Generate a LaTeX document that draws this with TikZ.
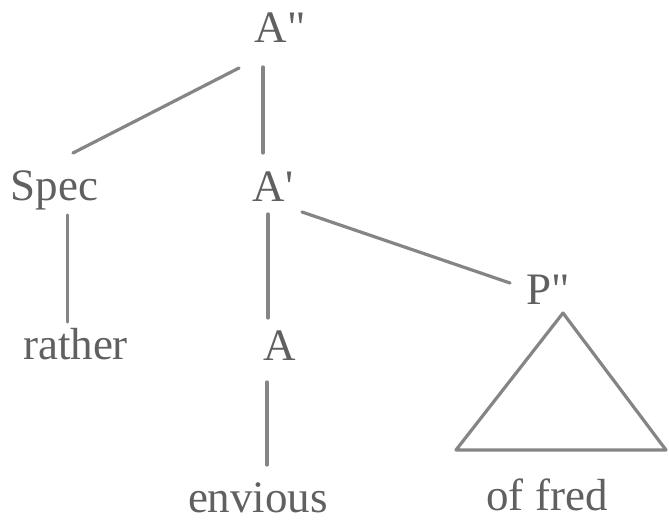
\documentclass[tikz,border=0pt]{standalone}
\usepackage{fontspec}
\setmainfont{Liberation Serif}[Ligatures=TeXOff]
\usetikzlibrary{calc}
\definecolor{inkgray}{HTML}{606060}
\definecolor{linegray}{HTML}{858585}
\tikzset{
  lbl/.style={anchor=base, inner sep=0pt, text=inkgray, font=\fontsize{45}{54}\selectfont},
  edge/.style={draw=linegray, line width=3.2pt, line cap=round},
  tri/.style={draw=linegray, line width=3.2pt, line join=round}
}
\begin{document}
\begin{tikzpicture}[x=1pt,y=-1pt]
\useasboundingbox (0,0) rectangle (669,521);
\node[lbl] (App) at (280,43) {A"};
\node[lbl] (Spec) at (54.5,201) {Spec};
\node[lbl] (Ap) at (273,202) {A'};
\node[lbl] (rather) at (75.5,359) {rather};
\node[lbl] (A) at (280,360) {A};
\node[lbl] (Ppp) at (548,305) {P"};
\node[lbl] (envious) at (258,512) {envious};
\node[lbl] (offred) at (547,510) {of fred};
\draw[edge] ($(App.base)+(-41,25)$) -- ($(Spec.base)+(18.5,-48)$);
\draw[edge] ($(App.base)+(-17,24)$) -- ($(Ap.base)+(-10,-49)$);
\draw[edge] ($(Spec.base)+(13,14)$) -- ($(rather.base)+(-8,-37)$);
\draw[edge] ($(Ap.base)+(-5,12)$) -- ($(A.base)+(-12,-42)$);
\draw[edge] ($(A.base)+(-13,22)$) -- ($(envious.base)+(9,-47)$);
\draw[edge] ($(Ap.base)+(29,10)$) -- ($(Ppp.base)+(-38,-22)$);
\draw[tri] ($(Ppp.base)+(15,8)$) -- ($(offred.base)+(-91,-60)$) -- ($(offred.base)+(119,-60)$) -- cycle;
\end{tikzpicture}
\end{document}
